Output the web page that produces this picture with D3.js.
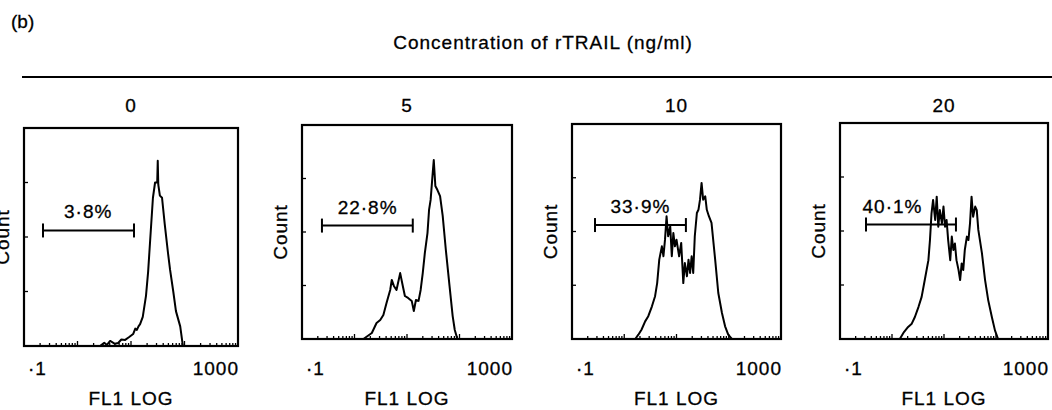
<!DOCTYPE html>
<html lang="en">
  <head>
    <meta charset="UTF-8" />
    <title>rTRAIL FL1 histograms</title>
    <script src="https://d3js.org/d3.v7.min.js"></script>
    <style>
      body {
        margin: 0;
        background: #fff;
      }
      svg text {
        font-family: "Liberation Sans", Arial, sans-serif;
        font-size: 19px;
        letter-spacing: 1px;
        fill: #000;
        stroke: #000;
        stroke-width: 0.3px;
      }
      .frame {
        fill: none;
        stroke: #000;
        stroke-width: 2.2px;
      }
      .curve {
        fill: none;
        stroke: #000;
        stroke-width: 2px;
        stroke-linejoin: round;
      }
      .mark {
        stroke: #000;
        stroke-width: 1.3px;
      }
      .gate {
        stroke: #000;
        stroke-width: 2px;
      }
    </style>
  </head>
  <body>
    <script>
      var doses = ["0", "5", "10", "20"];
      var gateLabels = ["3·8%", "22·8%", "33·9%", "40·1%"];
      // gate limits and label position, in log10 FL1 units
      var gateStart = [-0.645, -0.62, -0.56, -0.5];
      var gateEnd = [1.056, 1.11, 1.18, 1.23];
      var gateLevel = [53, 53, 53, 53];
      var labelAt = [0.2, 0.25, 0.31, 0.01];
      var xTickLabels = ["·1", "1000"];
      var countTicks = [25, 50, 75];

      // [log10 FL1, count]
      var hist0 = [
        [-1, 0], [0.3, 0], [0.42, 0], [0.5, 1.5], [0.55, 0.5], [0.61, 2.3],
        [0.7, 1], [0.76, 1.4], [0.82, 3], [0.89, 2.8], [0.96, 4], [1.04, 5.5],
        [1.08, 8], [1.11, 7.4], [1.14, 9], [1.17, 10], [1.22, 13.4], [1.28, 23],
        [1.32, 34], [1.37, 53], [1.41, 68], [1.45, 75], [1.49, 75], [1.5, 85],
        [1.51, 74], [1.54, 69], [1.58, 68], [1.63, 56], [1.69, 43], [1.73, 35],
        [1.79, 25], [1.84, 16], [1.92, 9], [1.97, 0], [3, 0]
      ];
      var hist5 = [
        [-1, 0], [0.17, 0], [0.33, 2.8], [0.42, 7.5], [0.49, 8.9], [0.55, 11.2],
        [0.61, 16.8], [0.68, 22.9], [0.71, 27.6], [0.75, 24.8], [0.8, 22.9],
        [0.87, 30.8], [0.92, 24.8], [0.96, 20.1], [1.02, 19.2], [1.09, 17.8],
        [1.13, 13.1], [1.17, 18.2], [1.22, 17.8], [1.26, 22.9], [1.3, 30.8],
        [1.34, 40.2], [1.39, 49.5], [1.42, 60.3], [1.45, 65], [1.49, 77.6],
        [1.51, 83.6], [1.54, 71.5], [1.58, 69.6], [1.63, 66.8], [1.68, 57.5],
        [1.74, 41.6], [1.81, 24.8], [1.87, 10.7], [1.91, 4.2], [1.96, 0], [3, 0]
      ];
      var hist10 = [
        [-1, 0], [0.21, 0], [0.27, 2], [0.33, 4.3], [0.4, 8.2], [0.46, 10.6],
        [0.53, 15.2], [0.59, 19.9], [0.63, 26], [0.67, 36.9], [0.72, 43.1],
        [0.75, 38.5], [0.78, 46.2], [0.81, 57.1], [0.84, 47.8], [0.88, 52.4],
        [0.91, 38.5], [0.94, 49.3], [0.97, 43.1], [1.0, 46.2], [1.05, 38.5],
        [1.09, 44.7], [1.12, 30.7], [1.13, 26], [1.16, 35.3], [1.2, 29.2],
        [1.23, 36.9], [1.26, 30.7], [1.29, 38.5], [1.32, 30.7], [1.35, 47.8],
        [1.39, 58.6], [1.42, 60.1], [1.45, 64.8], [1.48, 72.6], [1.51, 64.8],
        [1.55, 66.4], [1.58, 60.1], [1.62, 57.1], [1.67, 54], [1.74, 36.9],
        [1.8, 21.4], [1.87, 12.1], [1.93, 5.9], [1.99, 2], [2.06, 0], [3, 0]
      ];
      var hist20 = [
        [-1, 0], [0.15, 0], [0.23, 3.2], [0.31, 5.6], [0.38, 7.1], [0.44, 10.2],
        [0.51, 14.9], [0.57, 19.5], [0.63, 27.3], [0.7, 36.5], [0.73, 45.8],
        [0.76, 58.2], [0.79, 64.4], [0.83, 55.1], [0.86, 65.9], [0.89, 52],
        [0.92, 59.7], [0.96, 53.5], [0.99, 61.3], [1.02, 52], [1.05, 55.1],
        [1.08, 45.8], [1.12, 36.5], [1.15, 47.4], [1.18, 41.2], [1.21, 44.2],
        [1.24, 36.5], [1.28, 31.9], [1.31, 27.3], [1.34, 35], [1.37, 31.9],
        [1.4, 41.2], [1.44, 47.4], [1.47, 45.8], [1.5, 53.5], [1.53, 65.9],
        [1.56, 56.6], [1.6, 61.3], [1.63, 59.7], [1.66, 50.5], [1.73, 39.6],
        [1.79, 27.3], [1.85, 18], [1.92, 10.2], [1.98, 4], [2.04, 0], [3, 0]
      ];
      var histograms = [hist0, hist5, hist10, hist20];

      // boxes as they sit on the scanned figure
      var panels = [
        { left: 24, top: 128, width: 214, height: 218 },
        { left: 302, top: 125, width: 210, height: 214 },
        { left: 572, top: 124, width: 209, height: 215 },
        { left: 840, top: 123, width: 208, height: 216 }
      ];

      var svg = d3
        .select("body")
        .append("svg")
        .attr("width", 1052)
        .attr("height", 410);

      svg
        .append("text")
        .attr("x", 11)
        .attr("y", 28)
        .style("letter-spacing", "0px")
        .text("(b)");

      svg
        .append("text")
        .attr("x", 543)
        .attr("y", 49)
        .style("text-anchor", "middle")
        .text("Concentration of rTRAIL (ng/ml)");

      svg
        .append("line")
        .attr("x1", 22)
        .attr("x2", 1052)
        .attr("y1", 77)
        .attr("y2", 77)
        .attr("class", "gate");

      panels.forEach(function (p, i) {
        var g = svg
          .append("g")
          .attr("transform", "translate(" + p.left + "," + p.top + ")");

        var x = d3.scaleLog().domain([0.1, 1000]).range([0, p.width]);
        var y = d3.scaleLinear().domain([0, 100]).range([p.height, 0]);
        var fl1 = function (v) {
          return x(Math.pow(10, v));
        };

        // header dose
        g.append("text")
          .attr("x", p.width / 2)
          .attr("y", 112 - p.top)
          .style("text-anchor", "middle")
          .text(doses[i]);

        g.append("rect")
          .attr("class", "frame")
          .attr("width", p.width)
          .attr("height", p.height);

        // log minor ticks along the bottom, inside
        g.selectAll(".xmark")
          .data(x.ticks())
          .enter()
          .append("line")
          .attr("class", "mark")
          .attr("x1", function (d) {
            return x(d);
          })
          .attr("x2", function (d) {
            return x(d);
          })
          .attr("y1", p.height)
          .attr("y2", function (d) {
            var k = Math.log10(d);
            return Math.abs(k - Math.round(k)) < 1e-6 ? p.height - 5 : p.height - 3;
          });

        g.selectAll(".ymark")
          .data(countTicks)
          .enter()
          .append("line")
          .attr("class", "mark")
          .attr("x1", 0)
          .attr("x2", 4)
          .attr("y1", function (d) {
            return y(d);
          })
          .attr("y2", function (d) {
            return y(d);
          });

        g.append("path")
          .datum(histograms[i])
          .attr("class", "curve")
          .attr(
            "d",
            d3
              .line()
              .x(function (d) {
                return fl1(d[0]);
              })
              .y(function (d) {
                return y(d[1]);
              })
          );

        // gate marker
        var gy = y(gateLevel[i]);
        var gx0 = fl1(gateStart[i]);
        var gx1 = fl1(gateEnd[i]);
        g.append("line")
          .attr("class", "gate")
          .attr("x1", gx0)
          .attr("x2", gx1)
          .attr("y1", gy)
          .attr("y2", gy);
        [gx0, gx1].forEach(function (cx) {
          g.append("line")
            .attr("class", "gate")
            .attr("x1", cx)
            .attr("x2", cx)
            .attr("y1", gy - 7)
            .attr("y2", gy + 7);
        });
        g.append("text")
          .attr("x", fl1(labelAt[i]))
          .attr("y", gy - 12)
          .style("text-anchor", "middle")
          .text(gateLabels[i]);

        g.append("text")
          .attr("x", 4)
          .attr("y", 375 - p.top)
          .text(xTickLabels[0]);
        g.append("text")
          .attr("x", p.width + 1)
          .attr("y", 375 - p.top)
          .style("text-anchor", "end")
          .text(xTickLabels[1]);

        g.append("text")
          .attr("x", p.width / 2)
          .attr("y", 405 - p.top)
          .style("text-anchor", "middle")
          .text("FL1 LOG");

        g.append("text")
          .attr(
            "transform",
            "translate(-15," + p.height / 2 + ") rotate(-90)"
          )
          .style("text-anchor", "middle")
          .text("Count");
      });
    </script>
  </body>
</html>
